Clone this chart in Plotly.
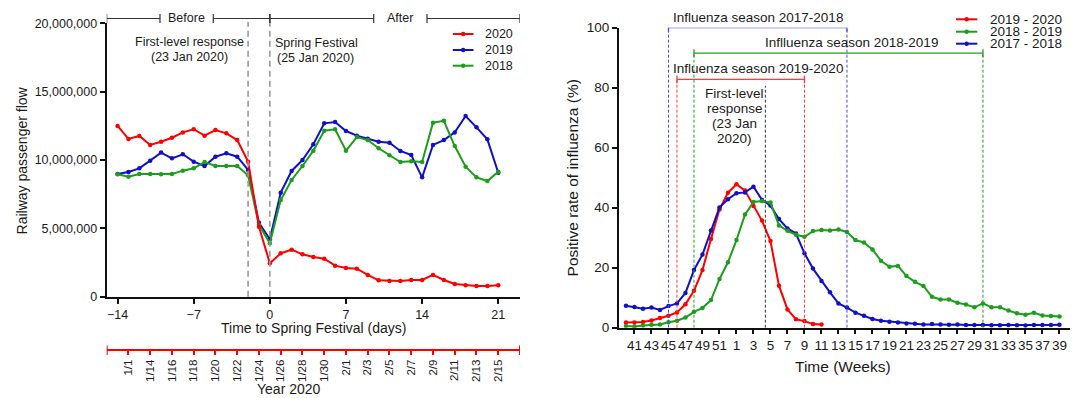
import plotly.graph_objects as go

W, H = 1080, 398
FONT = "Liberation Sans, Arial, Helvetica, sans-serif"
TXT = "#1a1a1a"
RED, BLUE, GREEN = "#ff0000", "#1010c8", "#1c9e1c"

# ---------------- Left panel data (railway passenger flow) ----------------
days = list(range(-14, 22))
flow_2020 = [12490000, 11540000, 11760000, 11100000, 11340000, 11630000, 12020000, 12250000,
             11780000, 12190000, 11950000, 11460000, 9880000, 5120000, 2440000,
             3170000, 3440000, 3100000, 2900000, 2780000, 2270000, 2100000, 2050000, 1590000,
             1200000, 1150000, 1150000, 1220000, 1220000, 1590000, 1220000, 930000, 830000,
             780000, 780000, 830000]
flow_2019 = [8980000, 9120000, 9390000, 9950000, 10540000, 10120000, 10420000, 9880000,
             9560000, 10240000, 10490000, 10240000, 9270000, 5410000, 4200000,
             7610000, 9200000, 10000000, 11150000, 12680000, 12780000, 12120000, 11780000,
             11560000, 11340000, 11270000, 10660000, 10370000, 8730000, 11100000, 11460000,
             12020000, 13220000, 12390000, 11510000, 9070000]
flow_2018 = [8950000, 8780000, 8980000, 8980000, 8950000, 8980000, 9220000, 9390000,
             9850000, 9560000, 9560000, 9560000, 8880000, 5250000, 3910000,
             7070000, 8540000, 9560000, 10680000, 12140000, 12250000, 10680000, 11680000,
             11460000, 10860000, 10340000, 9850000, 9900000, 9850000, 12730000, 12870000,
             11020000, 9510000, 8730000, 8460000, 9140000]
day_ticks = [-14, -7, 0, 7, 14, 21]
flow_ticks = [0, 5000000, 10000000, 15000000, 20000000]
date_ticks = list(range(-13, 22, 2))
date_labels = ["1/1", "1/14", "1/16", "1/18", "1/20", "1/22", "1/24", "1/26", "1/28", "1/30",
               "2/1", "2/3", "2/5", "2/7", "2/9", "2/11", "2/13", "2/15"]
event_days = [-2, 0]
period_names = ["Before", "After"]
period_bounds = [(-15, 0), (0, 23)]
period_label_x = [-7.65, 12.0]

# ---------------- Right panel data (influenza positive rate) ----------------
weeks = list(range(40, 53)) + list(range(1, 40))
rate_1920 = [1.7, 1.7, 1.9, 2.4, 3.2, 4.0, 5.1, 7.8, 12.3, 19.2, 29.6, 39.4, 45.0, 47.8,
             45.7, 40.6, 35.7, 28.9, 14.0, 6.1, 2.8, 2.2, 1.2, 1.1]
rate_1819 = [0.6, 0.4, 0.7, 1.0, 1.1, 1.8, 2.3, 3.4, 5.3, 6.6, 9.2, 16.2, 21.8, 29.2, 37.7,
             41.9, 42.2, 41.7, 34.1, 32.3, 31.0, 30.3, 32.2, 32.6, 32.4, 32.7, 31.9, 29.2,
             28.4, 26.1, 22.3, 20.3, 20.6, 17.2, 15.3, 13.9, 10.3, 9.4, 9.4, 8.3, 7.7, 6.8,
             8.1, 6.8, 6.8, 5.7, 4.8, 4.3, 5.0, 4.1, 3.9, 3.7]
rate_1718 = [7.3, 6.9, 6.3, 6.7, 5.9, 7.2, 8.1, 11.6, 19.2, 24.4, 32.4, 40.1, 42.8, 44.8,
             45.1, 47.0, 42.6, 40.7, 36.2, 33.1, 31.4, 24.8, 19.7, 15.6, 11.8, 8.1, 6.7,
             5.0, 4.0, 2.9, 2.3, 2.0, 1.7, 1.4, 1.3, 1.1, 1.2, 1.1, 1.0, 1.1, 0.9, 0.9, 0.9,
             0.8, 0.8, 0.9, 0.8, 0.7, 0.9, 0.9, 0.9, 1.0]
rate_ticks = [0, 20, 40, 60, 80, 100]
season_names = ["Influenza season 2017-2018", "Inflluenza season 2018-2019",
                "Influenza season 2019-2020"]
season_start = [5, 8, 6]      # week index
season_end = [26, 42, 21]
season_level = [100, 91.5, 82.8]
season_label_x = [15.5, 26.5, 15.5]
season_colors = ["#4444ff", "#1c9e1c", "#ff3a3a"]
response_week = 16.4
response_lines = ["First-level", "response", "(23 Jan", "2020)"]

week_idx = list(range(len(weeks)))


def px_x(p):
    return p / W


def px_y(p):
    return 1 - p / H


L_DX = [px_x(106.7), px_x(520)]
L_DY = [px_y(296.7), px_y(23.3)]
R_DX = [px_x(619), px_x(1070)]
R_DY = [px_y(327.7), px_y(27.7)]


def rate_to_paper(v):
    return R_DY[0] + (v / 100.0) * (R_DY[1] - R_DY[0])


fig = go.Figure()

for vals, col in [(flow_2019, BLUE), (flow_2018, GREEN), (flow_2020, RED)]:
    fig.add_trace(go.Scatter(x=days, y=vals, mode="lines+markers", xaxis="x", yaxis="y",
                             line=dict(color=col, width=2), marker=dict(size=4.5, color=col),
                             showlegend=False, hoverinfo="skip"))
# carrier trace for the calendar axis
fig.add_trace(go.Scatter(x=[period_bounds[0][0], period_bounds[1][1]], y=[None, None],
                         xaxis="x2", yaxis="y", mode="lines", showlegend=False,
                         hoverinfo="skip"))

for vals, col in [(rate_1920, RED), (rate_1718, BLUE), (rate_1819, GREEN)]:
    fig.add_trace(go.Scatter(x=week_idx[:len(vals)], y=vals, mode="lines+markers",
                             xaxis="x3", yaxis="y3", line=dict(color=col, width=2),
                             marker=dict(size=4.5, color=col), showlegend=False,
                             hoverinfo="skip"))

shapes = []
ann = []


def text(x, y, s, size, xref="paper", yref="paper", xanchor="center", yanchor="middle",
         angle=0, xshift=0, yshift=0):
    ann.append(dict(x=x, y=y, xref=xref, yref=yref, text=s, showarrow=False,
                    xanchor=xanchor, yanchor=yanchor, textangle=angle, xshift=xshift,
                    yshift=yshift, font=dict(size=size, color=TXT, family=FONT)))


# ---- left panel decorations ----
for d in event_days:
    shapes.append(dict(type="line", xref="x", yref="paper", x0=d, x1=d, y0=L_DY[0],
                       y1=px_y(18.5) if d == 0 else px_y(22),
                       line=dict(color="#9a9a9a", width=1.6, dash="6px,4px")))

by = px_y(18.5)
cap = 4.5 / H
for name, (a, b), cx in zip(period_names, period_bounds, period_label_x):
    for s0, s1 in [(a, cx - 2.45), (cx + 2.45, b)]:
        shapes.append(dict(type="line", xref="x", yref="paper", x0=s0, x1=s1, y0=by, y1=by,
                           line=dict(color="#333", width=1.2)))
        for e in (s0, s1):
            shapes.append(dict(type="line", xref="x", yref="paper", x0=e, x1=e,
                               y0=by - cap, y1=by + cap, line=dict(color="#333", width=1.2)))
    text(cx, by, name, 12.5, xref="x")

text(-7.42, px_y(42.3), "First-level response", 12.5, xref="x")
text(-7.42, px_y(56.7), "(23 Jan 2020)", 12.5, xref="x")
text(0, px_y(43.3), "Spring Festival", 12.5, xref="x", xanchor="left", xshift=3.5)
text(0, px_y(57.7), "(25 Jan 2020)", 12.5, xref="x", xanchor="left", xshift=5)

# red calendar axis end caps
for e in (period_bounds[0][0], period_bounds[1][1]):
    shapes.append(dict(type="line", xref="x", yref="paper", x0=e, x1=e, y0=px_y(355),
                       y1=px_y(345.5), line=dict(color=RED, width=2)))


def legend_entry(x0, x1, y, col, label, tx, size):
    shapes.append(dict(type="line", xref="paper", yref="paper", x0=px_x(x0), x1=px_x(x1),
                       y0=px_y(y), y1=px_y(y), line=dict(color=col, width=2)))
    c = (x0 + x1) / 2
    shapes.append(dict(type="circle", xref="paper", yref="paper", x0=px_x(c - 2.2),
                       x1=px_x(c + 2.2), y0=px_y(y + 2.2), y1=px_y(y - 2.2),
                       fillcolor=col, line=dict(color=col, width=0)))
    text(px_x(tx), px_y(y), label, size, xanchor="left")


for y, col, lab in [(34, RED, "2020"), (50, BLUE, "2019"), (65.7, GREEN, "2018")]:
    legend_entry(452.8, 473.5, y, col, lab, 483, 12.5)

text(px_x(22.4), px_y(160), "Railway passenger flow", 14, angle=-90)
text(px_x(313.4), px_y(328), "Time to Spring Festival (days)", 14)
text(px_x(289), px_y(389.3), "Year 2020", 14)

# ---- right panel decorations ----
for name, a, b, lev, lx, col in zip(season_names, season_start, season_end, season_level,
                                     season_label_x, season_colors):
    for e in (a, b):
        shapes.append(dict(type="line", xref="x3", yref="y3", x0=e, x1=e, y0=0, y1=lev,
                           line=dict(color=col, width=1, dash="3px,2px")))
        shapes.append(dict(type="line", xref="x3", yref="y3", x0=e, x1=e, y0=lev - 1.3,
                           y1=lev + 1.3, line=dict(color=col, width=1.3)))
    shapes.append(dict(type="line", xref="x3", yref="y3", x0=a, x1=b, y0=lev, y1=lev,
                       line=dict(color=col, width=1.3)))
    text(lx, rate_to_paper(lev + 3.5), name, 13.5, xref="x3")

shapes.append(dict(type="line", xref="x3", yref="y3", x0=response_week, x1=response_week,
                   y0=0, y1=80.6, line=dict(color="#333", width=1, dash="3px,2px")))
for i, s in enumerate(response_lines):
    text(12.77, rate_to_paper(78.13 - 5 * i), s, 13.5, xref="x3")

for y, col, lab in [(19.3, RED, "2019 - 2020"), (31.7, GREEN, "2018 - 2019"),
                    (43.7, BLUE, "2017 - 2018")]:
    legend_entry(956, 977.3, y, col, lab, 988.3, 13.5)

text(px_x(572.7), px_y(177.7), "Positive rate of influenza (%)", 15.5, angle=-90)
text(px_x(843), px_y(366.7), "Time (Weeks)", 15.5)

axis_common = dict(showline=True, linewidth=2, linecolor="#111", ticks="outside", ticklen=5,
                   tickwidth=1.5, tickcolor="#111", showgrid=False, zeroline=False,
                   automargin=False)

fig.update_layout(
    width=W, height=H, margin=dict(l=0, r=0, t=0, b=0, pad=0, autoexpand=False),
    autosize=False,
    paper_bgcolor="white", plot_bgcolor="white", showlegend=False,
    font=dict(family=FONT, size=12.5, color=TXT),
    xaxis=dict(domain=L_DX, range=[-15, 23], anchor="y", tickvals=day_ticks, tickangle=0,
               tickfont=dict(size=12.5), **axis_common),
    yaxis=dict(domain=L_DY, range=[0, 20000000], anchor="x", tickvals=flow_ticks,
               tickformat=",d", tickfont=dict(size=12.5), **axis_common),
    xaxis2=dict(overlaying="x", anchor="free", position=px_y(350), range=[-15, 23],
                tickvals=date_ticks, ticktext=date_labels, tickangle=-90, showline=True,
                linewidth=2, linecolor=RED, ticks="outside", ticklen=4, tickwidth=1.5,
                tickcolor=RED, showgrid=False, zeroline=False, side="bottom",
                automargin=False, tickfont=dict(size=11.5, color=TXT)),
    xaxis3=dict(domain=R_DX, range=[-0.82, 52.24], anchor="y3",
                tickvals=week_idx[1::2], ticktext=[str(w) for w in weeks[1::2]],
                tickangle=0, tickfont=dict(size=13.5), **{**axis_common, "ticklen": 4}),
    yaxis3=dict(domain=R_DY, range=[0, 100], anchor="x3", tickvals=rate_ticks,
                tickfont=dict(size=13.5), **axis_common),
    shapes=shapes, annotations=ann,
)

fig.write_html("out.html", config={"displayModeBar": False},
               post_script="document.body.style.margin='0';")
